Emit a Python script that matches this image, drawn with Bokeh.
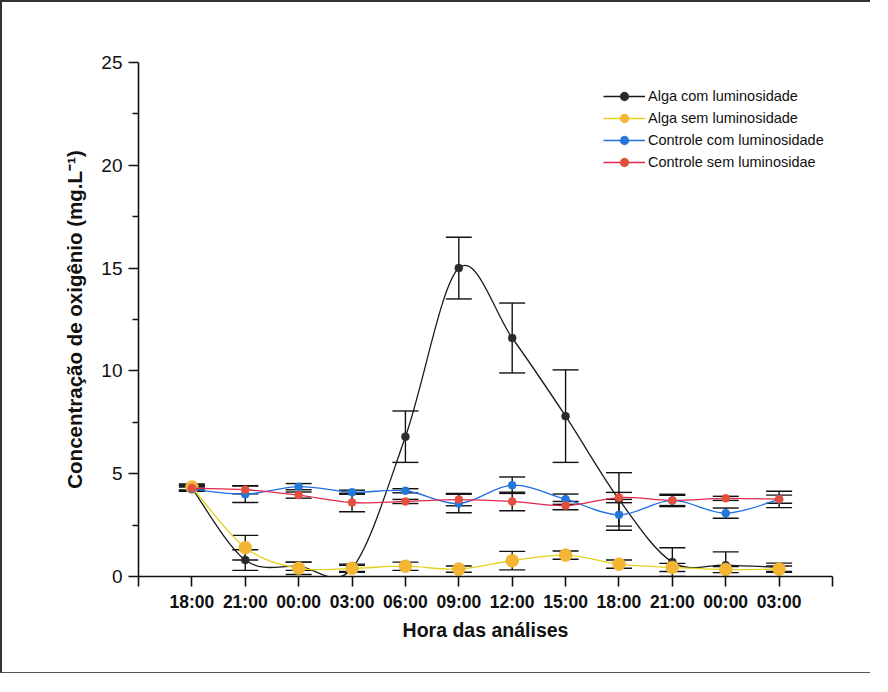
import numpy as np
from bokeh.plotting import figure
from bokeh.models import (FixedTicker, Whisker, ColumnDataSource, TeeHead,
                          Legend, LegendItem, Range1d)
from bokeh.embed import file_html
from bokeh.resources import INLINE

# ---- data ----
hours = ["18:00", "21:00", "00:00", "03:00", "06:00", "09:00",
         "12:00", "15:00", "18:00", "21:00", "00:00", "03:00"]

alga_luz = [4.3, 0.8, 0.5, 0.4, 6.8, 15.0, 11.6, 7.8, 3.75, 0.7, 0.55, 0.45]
alga_luz_err = [0.15, 0.5, 0.2, 0.15, 1.25, 1.5, 1.7, 2.25, 1.3, 0.7, 0.65, 0.2]

alga_sem = [4.35, 1.4, 0.4, 0.4, 0.5, 0.36, 0.77, 1.04, 0.6, 0.44, 0.34, 0.36]
alga_sem_err = [0.15, 0.6, 0.3, 0.2, 0.2, 0.15, 0.45, 0.2, 0.2, 0.2, 0.15, 0.15]

ctrl_luz = [4.25, 4.0, 4.37, 4.1, 4.17, 3.55, 4.44, 3.76, 3.0, 3.7, 3.08, 3.75]
ctrl_luz_err = [0.1, 0.4, 0.15, 0.1, 0.1, 0.45, 0.4, 0.25, 0.75, 0.3, 0.25, 0.4]

ctrl_sem = [4.3, 4.22, 3.96, 3.6, 3.65, 3.74, 3.65, 3.45, 3.84, 3.7, 3.8, 3.76]
ctrl_sem_err = [0.1, 0.2, 0.15, 0.45, 0.1, 0.3, 0.45, 0.2, 0.25, 0.25, 0.1, 0.2]

labels = ["Alga com luminosidade", "Alga sem luminosidade",
          "Controle com luminosidade", "Controle sem luminosidae"]

x = list(range(len(hours)))

FONT = "Liberation Sans"

p = figure(width=870, height=673, output_backend="svg", toolbar_location=None,
           x_range=Range1d(-1, 12), y_range=Range1d(0, 25),
           min_border_left=136, min_border_right=40, min_border_top=60,
           min_border_bottom=99)
p.styles = {"border-left": "2px solid #333", "border-top": "2px solid #333",
            "border-bottom": "1px solid #555"}
p.outline_line_color = None
p.xgrid.grid_line_color = None
p.ygrid.grid_line_color = None

# axes
p.xaxis.ticker = FixedTicker(ticks=list(range(-1, 13)))
ov = {i: h for i, h in enumerate(hours)}
ov[-1] = ""
ov[12] = ""
p.xaxis.major_label_overrides = ov
p.yaxis.ticker = FixedTicker(ticks=[0, 5, 10, 15, 20, 25],
                             minor_ticks=[2.5, 7.5, 12.5, 17.5, 22.5])
for ax in (p.xaxis[0], p.yaxis[0]):
    ax.axis_line_width = 1.6
    ax.axis_line_color = "#111"
    ax.major_tick_line_width = 1.6
    ax.major_tick_line_color = "#111"
    ax.minor_tick_line_width = 1.4
    ax.minor_tick_line_color = "#111"
    ax.major_tick_out = 10
    ax.major_tick_in = 0
    ax.minor_tick_out = 6
    ax.minor_tick_in = 0
    ax.major_label_text_font = FONT
    ax.major_label_text_color = "#111"
    ax.axis_label_text_font = FONT
    ax.axis_label_text_font_style = "bold"
    ax.axis_label_text_color = "#111"
p.xaxis.minor_tick_line_color = None
p.xaxis.major_label_text_font_style = "bold"
p.xaxis.major_label_text_font_size = "17.5px"
p.xaxis.major_label_standoff = 5
p.yaxis.major_label_text_font_size = "19px"
p.yaxis.major_label_standoff = 6
p.xaxis.axis_label = "Hora das análises"
p.yaxis.axis_label = "Concentração de oxigênio (mg.L⁻¹)"
p.xaxis.axis_label_text_font_size = "19.5px"
p.yaxis.axis_label_text_font_size = "20.5px"
p.xaxis.axis_label_standoff = 4
p.yaxis.axis_label_standoff = 12


def catmull_bezier(xs, ys):
    n = len(xs)
    x0, y0, x1, y1, cx0, cy0, cx1, cy1 = [], [], [], [], [], [], [], []
    for i in range(n - 1):
        im1 = max(i - 1, 0)
        ip2 = min(i + 2, n - 1)
        x0.append(xs[i]); y0.append(ys[i])
        x1.append(xs[i + 1]); y1.append(ys[i + 1])
        cx0.append(xs[i] + (xs[i + 1] - xs[im1]) / 6.0)
        cy0.append(ys[i] + (ys[i + 1] - ys[im1]) / 6.0)
        cx1.append(xs[i + 1] - (xs[ip2] - xs[i]) / 6.0)
        cy1.append(ys[i + 1] - (ys[ip2] - ys[i]) / 6.0)
    return dict(x0=x0, y0=y0, x1=x1, y1=y1, cx0=cx0, cy0=cy0, cx1=cx1, cy1=cy1)


series = [
    (alga_luz, alga_luz_err, "#1a1a1a", "#2a2a2a", 8),
    (alga_sem, alga_sem_err, "#e2d21a", "#f2b534", 13),
    (ctrl_luz, ctrl_luz_err, "#1f6fe0", "#2277d8", 8),
    (ctrl_sem, ctrl_sem_err, "#e0284f", "#e4503e", 8),
]

# error bars first
for ys, err, lc, mc, ms in series:
    src = ColumnDataSource(dict(x=x, upper=[a + b for a, b in zip(ys, err)],
                                lower=[a - b for a, b in zip(ys, err)]))
    w = Whisker(base="x", upper="upper", lower="lower", source=src,
                line_color="#111", line_width=1.4,
                upper_head=TeeHead(size=26, line_color="#111", line_width=1.4),
                lower_head=TeeHead(size=26, line_color="#111", line_width=1.4))
    p.add_layout(w)

items = []
for (ys, err, lc, mc, ms), lab in zip(series, labels):
    bz = p.bezier(source=ColumnDataSource(catmull_bezier(x, ys)),
                  x0="x0", y0="y0", x1="x1", y1="y1",
                  cx0="cx0", cy0="cy0", cx1="cx1", cy1="cy1",
                  line_color=lc, line_width=1.3)
    sc = p.scatter(x, ys, size=ms, fill_color=mc, line_color=mc, line_width=0.5)
    items.append(LegendItem(label=lab, renderers=[bz, sc]))

legend = Legend(items=items, location=(465, 403), padding=0, spacing=0,
                margin=0, glyph_width=42, glyph_height=22, label_height=22,
                label_standoff=3, label_text_font=FONT,
                label_text_font_size="14.5px", label_text_color="#111",
                border_line_color=None, background_fill_alpha=0)
p.add_layout(legend, "center")

open("out.html", "w").write(file_html(p, INLINE))
